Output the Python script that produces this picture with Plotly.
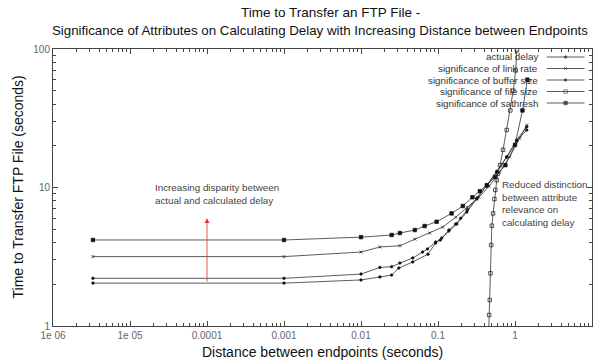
import math
import plotly.graph_objects as go

# ---------------- data ----------------
x_tick_vals = [1e-6, 1e-5, 1e-4, 1e-3, 1e-2, 1e-1, 1, 10]
x_tick_text = ["1e 06", "1e 05", "0.0001", "0.001", "0.01", "0.1", "1", "10"]
y_tick_vals = [1, 10, 100]
y_tick_text = ["1", "10", "100"]

x_actual = [3.3e-6, 0.001, 0.01, 0.0176, 0.025, 0.031, 0.047, 0.074, 0.093, 0.112, 0.138, 0.175, 0.237, 0.32, 0.43, 0.58, 0.78, 1.05, 1.42]
y_actual = [2.04, 2.04, 2.15, 2.26, 2.33, 2.62, 2.9, 3.3, 3.97, 4.32, 4.85, 5.45, 6.65, 8.25, 10.2, 12.9, 16.6, 21.6, 26.0]

x_link = [3.3e-6, 0.001, 0.01, 0.0176, 0.032, 0.05, 0.078, 0.115, 0.17, 0.24, 0.34, 0.46, 0.63, 0.85, 1.15, 1.42]
y_link = [3.17, 3.17, 3.42, 3.72, 3.8, 4.24, 4.69, 5.18, 6.1, 7.2, 8.5, 10.2, 12.9, 16.6, 22.7, 28.2]

x_buffer = [3.3e-6, 0.001, 0.01, 0.0176, 0.025, 0.032, 0.047, 0.063, 0.073, 0.093, 0.107, 0.139, 0.17, 0.197, 0.24, 0.32, 0.43, 0.58, 0.78, 1.05, 1.42]
y_buffer = [2.21, 2.21, 2.37, 2.65, 2.68, 2.85, 3.1, 3.42, 3.6, 4.04, 4.17, 4.93, 5.45, 6.0, 6.9, 8.4, 10.4, 13.1, 16.6, 22.0, 27.4]

x_file = [0.455, 0.462, 0.47, 0.48, 0.49, 0.5, 0.52, 0.54, 0.555, 0.58, 0.6, 0.64, 0.7, 0.78, 0.87, 0.95, 1.02, 1.06]
y_file = [0.9, 1.2, 1.54, 2.4, 3.84, 5.3, 6.5, 8.25, 9.6, 11.3, 12.6, 14.5, 18.7, 26.0, 36.0, 50.0, 70.0, 98.0]

x_sat = [3.3e-6, 0.001, 0.01, 0.025, 0.032, 0.05, 0.067, 0.096, 0.15, 0.21, 0.28, 0.35, 0.43, 0.55, 0.75, 1.0, 1.25, 1.45]
y_sat = [4.18, 4.18, 4.38, 4.54, 4.69, 4.93, 5.27, 5.66, 6.5, 7.35, 8.5, 9.4, 10.4, 11.9, 14.5, 20.3, 36.0, 60.0]

series_names = ["actual delay", "significance of link rate", "significance of buffer size",
                "significance of file size", "significance of sathresh"]
series_x = [x_actual, x_link, x_buffer, x_file, x_sat]
series_y = [y_actual, y_link, y_buffer, y_file, y_sat]
series_symbols = ["circle", "x-thin-open", "circle", "square-open", "square"]
series_sizes = [2.5, 3, 2.5, 3.5, 3.5]

arrow_x = 1e-4
arrow_y_start = 2.04
arrow_y_end = 6.0

FONT = "Liberation Sans, Arial, sans-serif"
LINE = "#444444"

fig = go.Figure()
for name, xs, ys, sym, sz in zip(series_names, series_x, series_y, series_symbols, series_sizes):
    fig.add_trace(go.Scatter(
        x=xs, y=ys, mode="lines+markers", name=name,
        line=dict(color="#333333", width=0.8),
        marker=dict(symbol=sym, size=sz, color="#111111",
                    line=dict(color="#111111", width=0.7)),
        showlegend=False, cliponaxis=True,
    ))

# minor ticks positions
x_minor = [m * 10 ** e for e in range(-6, 1) for m in range(2, 10)]
y_minor = [m * 10 ** e for e in range(0, 2) for m in range(2, 10)]

axis_common = dict(
    type="log", showgrid=False, zeroline=False, showline=True, linecolor=LINE, linewidth=1,
    mirror="allticks", ticks="inside", ticklen=5, tickcolor=LINE, tickwidth=1,
    tickfont=dict(family=FONT, size=10, color="#666666"),
)
fig.update_xaxes(range=[-6, 1], tickmode="array", tickvals=x_tick_vals, ticktext=x_tick_text,
                 minor=dict(tickmode="array", tickvals=x_minor, ticks="inside", ticklen=3,
                            tickcolor=LINE, showgrid=False),
                 **axis_common)
fig.update_yaxes(range=[0, 2], tickmode="array", tickvals=y_tick_vals, ticktext=y_tick_text,
                 minor=dict(tickmode="array", tickvals=y_minor, ticks="inside", ticklen=3,
                            tickcolor=LINE, showgrid=False),
                 **axis_common)

annotations = [
    dict(text="Time to Transfer an FTP File -", xref="paper", yref="paper", x=0.515, y=1.0,
         yshift=37, showarrow=False, xanchor="center", yanchor="middle",
         font=dict(family=FONT, size=13.5, color="#111111")),
    dict(text="Significance of Attributes on Calculating Delay with Increasing Distance between Endpoints",
         xref="paper", yref="paper", x=0.4954, y=1.0, yshift=19, showarrow=False,
         xanchor="center", yanchor="middle", font=dict(family=FONT, size=13.3, color="#111111")),
    dict(text="Distance between endpoints (seconds)", xref="paper", yref="paper", x=0.5, y=0,
         yshift=-26, showarrow=False, xanchor="center", yanchor="middle",
         font=dict(family=FONT, size=14, color="#111111")),
    dict(text="Time to Transfer FTP File (seconds)", xref="paper", yref="paper", x=0, y=0.5,
         xshift=-36, showarrow=False, textangle=-90, xanchor="center", yanchor="middle",
         font=dict(family=FONT, size=14, color="#111111")),
    dict(text="Increasing disparity between<br>actual and calculated delay", xref="x", yref="y",
         x=math.log10(arrow_x) - 0.7, y=math.log10(9.0), showarrow=False, xanchor="left",
         yanchor="middle", align="left", font=dict(family=FONT, size=9.8, color="#444444")),
    dict(text="Reduced distinction<br>between attribute<br>relevance on<br>calculating delay",
         xref="x", yref="y", x=math.log10(0.64), y=math.log10(7.7), showarrow=False,
         xanchor="left", yanchor="middle", align="left",
         font=dict(family=FONT, size=9.8, color="#444444")),
    dict(x=math.log10(arrow_x), y=math.log10(arrow_y_end), ax=math.log10(arrow_x),
         ay=math.log10(arrow_y_start), xref="x", yref="y", axref="x", ayref="y",
         text="", showarrow=True, arrowhead=2, arrowsize=1.2, arrowwidth=0.8,
         arrowcolor="#e03030"),
]

# custom gnuplot-like legend: text right-aligned, sample line to the right
legend_row_y = [57, 68.5, 80, 91.5, 103]
plot_top, plot_bottom = 49, 326
legend_rows = [(plot_bottom - ry) / (plot_bottom - plot_top) for ry in legend_row_y]
shapes = []
for name, py in zip(series_names, legend_rows):
    annotations.append(dict(text=name, xref="paper", yref="paper", x=0.9035, y=py,
                            showarrow=False, xanchor="right", yanchor="middle",
                            font=dict(family=FONT, size=9.8, color="#333333")))
    shapes.append(dict(type="line", xref="paper", yref="paper", x0=0.916, x1=0.986, y0=py, y1=py,
                       line=dict(color="#333333", width=0.8)))
fig.add_trace(go.Scatter(
    x=[0.951] * 5, y=legend_rows,
    xaxis="x2", yaxis="y2", mode="markers",
    marker=dict(symbol=series_symbols, size=series_sizes, color="#111111",
                line=dict(color="#111111", width=0.7)),
    showlegend=False, hoverinfo="skip"))

fig.update_layout(
    width=595, height=362,
    margin=dict(l=53, r=3, t=49, b=36),
    paper_bgcolor="white", plot_bgcolor="white",
    showlegend=False,
    annotations=annotations, shapes=shapes,
    xaxis2=dict(overlaying="x", range=[0, 1], visible=False, anchor="y2"),
    yaxis2=dict(overlaying="y", range=[0, 1], visible=False, anchor="x2"),
)

fig.write_html("out.html")
